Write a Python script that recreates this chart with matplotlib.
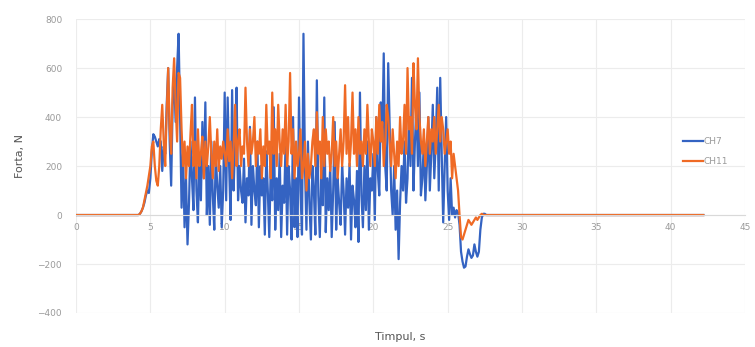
import numpy as np
import matplotlib
matplotlib.use("Agg")
import matplotlib.pyplot as plt

# ---- data ----
# active part sampled every 0.1 s from 4.0 s to 28.0 s
t_start, t_step = 4.0, 0.1

ch7 = [
    0, 0, 0, 5, 15, 30, 50, 80, 100, 90,
    150, 260, 330, 320, 300, 280, 310, 300, 180, 280,
    250, 450, 600, 300, 120, 450, 560, 380, 600, 740,
    400, 30, 250, -50, 150, -120, 50, 300, 150, 20,
    480, 100, -30, 250, 60, 380, 150, 460, 0, 200,
    -40, 300, 80, -60, 250, 120, 30, 200, -50, 100,
    500, 60, 480, 200, -20, 510, 100, 300, 520, 60,
    200, 100, 50, 230, -30, 150, 80, 360, -40, 200,
    100, 40, 300, -50, 200, 80, 150, -80, 260, 100,
    -90, 200, 60, 440, -60, 150, 20, 250, -90, 120,
    50, 300, -80, 200, 100, -100, 400, -50, 150, -90,
    480, 100, -80, 740, 200, -60, 300, 50, -100, 200,
    100, -80, 550, 80, -90, 180, 40, 480, -70, 150,
    20, 200, -90, 100, 380, -60, 150, 50, -40, 200,
    100, -80, 150, 30, 210, -100, 120, 60, -50, 180,
    -110, 500, 80, -50, 200, 20, 300, -60, 150, 100,
    250, -20, 400, 180, 80, 460, 300, 660, 200, 100,
    620, 350, 100, 0, 200, -60, 100, -180, 50, 200,
    100, 300, 50, 150, 400, 200, 560, 100, 300, 450,
    200, 500, 80, 150, 300, 60, 200, 400, 100, 250,
    450, 150, 300, 520, 100, 560, 250, -30, 200, 400,
    100, -20, 150, 0, 30, -10, 20, 10, -40, -150,
    -190, -215, -210, -170, -140, -160, -175, -165, -120, -150,
    -170, -150, -60, -10, 5, 5, 0, 0, 0, 0,
    0,
]

ch11 = [
    0, 0, 0, 5, 15, 30, 60, 90, 120, 160,
    200, 280, 300, 200, 140, 120, 200, 350, 450, 300,
    200, 420, 600, 350, 250, 520, 640, 450, 300, 580,
    560, 350, 200, 300, 150, 280, 200, 330, 450, 200,
    300, 150, 350, 200, 250, 320, 150, 300, 200, 280,
    400, 250, 150, 300, 200, 350, 180, 280, 230, 300,
    250, 200, 350, 220, 300, 150, 280, 450, 200, 300,
    350, 200, 280, 250, 520, 300, 200, 350, 250, 300,
    400, 200, 300, 250, 350, 150, 280, 200, 450, 250,
    300, 150, 500, 250, 350, 200, 450, 300, 200, 350,
    250, 450, 200, 300, 580, 250, 350, 150, 300, 200,
    250, 350, 150, 200, 300, 100, 250, 150, 200, 300,
    350, 200, 420, 250, 300, 150, 400, 200, 350, 250,
    300, 180, 250, 400, 200, 300, 150, 250, 350, 200,
    300, 530, 250, 400, 200, 300, 500, 250, 350, 200,
    400, 250, 300, 200, 350, 250, 450, 300, 200, 350,
    300, 200, 400, 250, 450, 300, 380, 200, 300, 450,
    400, 300, 200, 350, 250, 150, 300, 200, 400, 250,
    300, 450, 250, 600, 350, 400, 250, 620, 450, 350,
    640, 400, 300, 250, 350, 200, 300, 400, 250, 350,
    300, 400, 250, 350, 450, 300, 400, 350, 250, 300,
    350, 250, 300, 150, 250, 200, 150, 100, 0, -90,
    -100, -80, -60, -40, -20, -30, -40, -30, -20, -10,
    -20, -10, 0, 5, 0, 0, 0, 0, 0, 0,
    0,
]

# flat parts before and after
t_first, t_last = 0.0, 42.2

x_ticks = [0, 5, 10, 15, 20, 25, 30, 35, 40, 45]
y_ticks = [-400, -200, 0, 200, 400, 600, 800]

# ---- build time axis ----
t_act = t_start + t_step * np.arange(len(ch7))
t = np.concatenate([[t_first], t_act, [t_last]])
y7 = np.concatenate([[0], ch7, [0]])
y11 = np.concatenate([[0], ch11, [0]])

# ---- plot ----
fig = plt.figure(figsize=(7.55, 3.47), dpi=100)
ax = fig.add_axes([0.1007, 0.098, 0.886, 0.847])

ax.plot(t, y7, color="#3463c2", lw=1.6, label="CH7")
ax.plot(t, y11, color="#ef6a25", lw=1.6, label="CH11")

ax.set_xlim(0, 45)
ax.set_ylim(-400, 800)
ax.set_xticks(x_ticks)
ax.set_yticks(y_ticks)
ax.grid(True, color="#ececec", lw=0.8)
ax.set_axisbelow(True)

for s in ["top", "right", "left"]:
    ax.spines[s].set_visible(False)
ax.spines["bottom"].set_position(("data", 0))
ax.spines["bottom"].set_color("#d9d9d9")
ax.tick_params(length=0, labelsize=6.5, colors="#9a9a9a")
ax.tick_params(axis="x", pad=6)
ax.tick_params(axis="y", pad=10)

fig.text(0.027, 0.55, "Forta, N", rotation=90, fontsize=8, color="#555555",
         ha="center", va="center")
fig.text(0.53, 0.03, "Timpul, s", fontsize=8, color="#555555",
         ha="center", va="center")

ax.legend(loc="center left", bbox_to_anchor=(0.895, 0.55), frameon=False,
          fontsize=6.5, labelcolor="#9a9a9a", handlelength=2.2,
          handletextpad=0.1, labelspacing=1.2)

fig.savefig("out.png", dpi=100)
